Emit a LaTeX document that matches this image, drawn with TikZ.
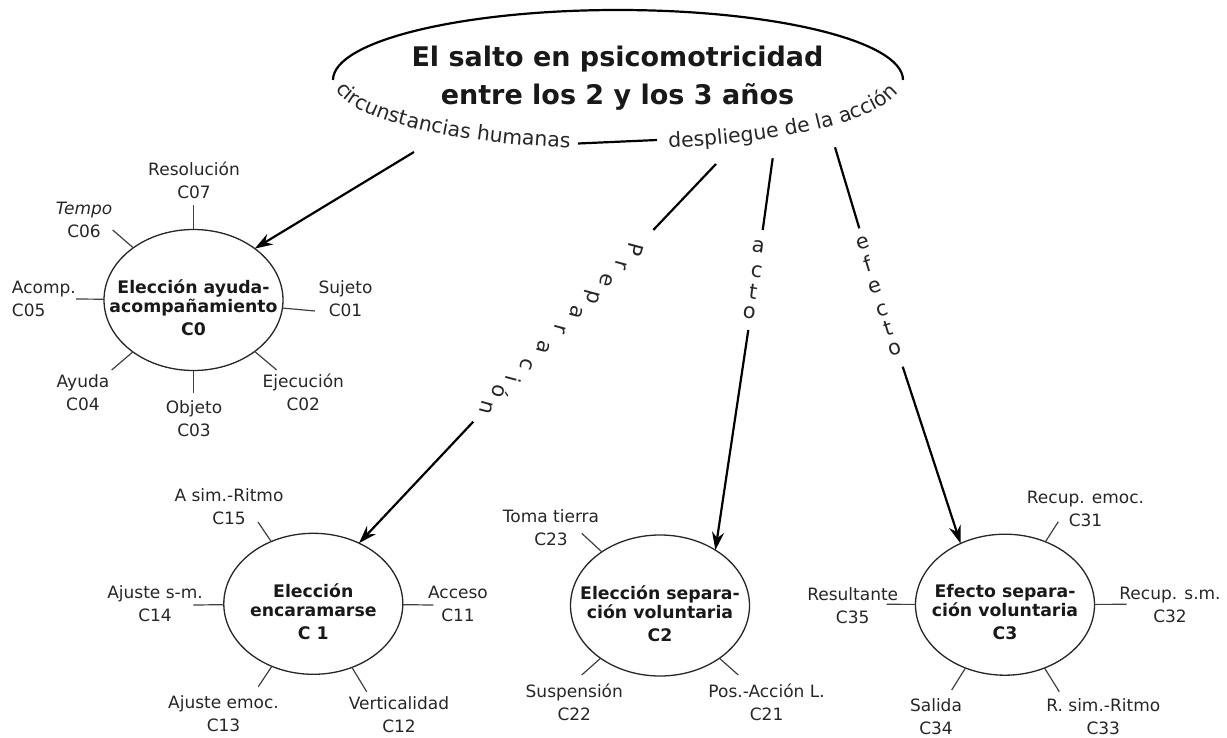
\documentclass[tikz,border=0pt]{standalone}
\usepackage{fontspec}
\setmainfont{DejaVu Sans}
\usetikzlibrary{arrows.meta,decorations.text,calc,shapes.geometric}
\begin{document}
\begin{tikzpicture}[x=1pt,y=-1pt,
  every node/.style={inner sep=0pt, outer sep=0pt},
  cnode/.style={draw=black!85, line width=1.3pt, ellipse, minimum width=179pt, minimum height=141pt},
  ctext/.style={anchor=north, align=center, font=\bfseries\fontsize{17.3}{19}\selectfont, text=black!90},
  lab/.style={align=center, font=\fontsize{17}{23}\selectfont, text=black!85},
  spoke/.style={draw=black!75, line width=1.2pt},
  arr/.style={line width=2.2pt, -{Stealth[length=18pt,width=12pt]}},
  plainline/.style={line width=2.2pt},
  lett/.style={font=\fontsize{21}{21}\selectfont, anchor=center, text=black!85}
]
\useasboundingbox (0,0) rectangle (1227,738);

% ---------- top ellipse (arc) and title ----------
\draw[line width=2.2pt] (618,80) ++(180:285 and 70) arc[start angle=180,end angle=360,x radius=285,y radius=70];
\node[anchor=north, align=center, font=\bfseries\fontsize{27}{38}\selectfont, text=black!90] (title) at (617.5,46)
  {El salto en psicomotricidad\\entre los 2 y los 3 años};

\path[decorate, decoration={text along path, text align=center, text color=black!85,
   text={|\fontsize{20.4}{25}\selectfont|circunstancias humanas}}]
   (618,80) ++(179:285 and 69) arc[start angle=179,end angle=98,x radius=285,y radius=69];
\path[decorate, decoration={text along path, text align=center, text color=black!85,
   text={|\fontsize{20.4}{25}\selectfont|despliegue de la acción}}]
   (618,80) ++(82:285 and 69) arc[start angle=82,end angle=2,x radius=285,y radius=69];

\coordinate (dl) at (578,143.5);
\coordinate (dr) at (657,140);
\draw[plainline] (dl) -- (dr);

% ---------- circles ----------
\node[cnode] (c0) at (193.5,300) {};
\node[ctext] (c0t) at ($(c0)+(0,-20)$) {Elección ayuda-\\acompañamiento\\[4pt]C0};
\node[cnode] (c1) at (313.3,603.8) {};
\node[ctext] (c1t) at ($(c1)+(0,-20)$) {Elección\\encaramarse\\[4pt]C 1};
\node[cnode] (c2) at (660,605.5) {};
\node[ctext] (c2t) at ($(c2)+(0,-20)$) {Elección separa-\\ción voluntaria\\[4pt]C2};
\node[cnode] (c3) at (1005,604.7) {};
\node[ctext] (c3t) at ($(c3)+(0,-20)$) {Efecto separa-\\ción voluntaria\\[4pt]C3};

% ---------- C0 spokes and labels ----------
\coordinate (o07) at (193.5,205);
\coordinate (o06) at (112.7,230);
\coordinate (o05) at (76,299);
\coordinate (o01) at (315,311);
\coordinate (o02) at (276.7,370);
\coordinate (o03) at (193.5,393);
\coordinate (o04) at (111.7,370);
\foreach \o in {o07,o06,o05,o01,o02,o03,o04} \draw[spoke] (c0) -- (\o);
\node[lab] (l07) at (194,180.3) {Resolución\\C07};
\node[lab] (l06) at (84,219.8) {\textit{Tempo}\\C06};
\node[lab, align=left, anchor=west] (l05) at (12,298.5) {Acomp.\\C05};
\node[lab] (l01) at (345.5,298.7) {Sujeto\\C01};
\node[lab] (l02) at (303.3,392.5) {Ejecución\\C02};
\node[lab] (l03) at (194,418.3) {Objeto\\C03};
\node[lab] (l04) at (83,392.5) {Ayuda\\C04};

% ---------- C1 spokes and labels ----------
\coordinate (o15) at (258,522);
\coordinate (o14) at (193.3,605);
\coordinate (o11) at (433.3,605);
\coordinate (o13) at (258.3,686.7);
\coordinate (o12) at (366.7,691.7);
\foreach \o in {o15,o14,o11,o13,o12} \draw[spoke] (c1) -- (\o);
\node[lab] (l15) at (229,507) {A sim.-Ritmo\\C15};
\node[lab] (l14) at (155,604) {Ajuste s-m.\\C14};
\node[lab] (l11) at (458,604.3) {Acceso\\C11};
\node[lab] (l13) at (223.5,714) {Ajuste emoc.\\C13};
\node[lab] (l12) at (399,714.5) {Verticalidad\\C12};

% ---------- C2 spokes and labels ----------
\coordinate (o23) at (581.7,533.3);
\coordinate (o22) at (581.7,675);
\coordinate (o21) at (738.3,675);
\foreach \o in {o23,o22,o21} \draw[spoke] (c2) -- (\o);
\node[lab] (l23) at (551,528) {Toma tierra\\C23};
\node[lab] (l22) at (574.3,702.5) {Suspensión\\C22};
\node[lab] (l21) at (766.6,702.5) {Pos.-Acción L.\\C21};

% ---------- C3 spokes and labels ----------
\coordinate (o31) at (1058.3,521.7);
\coordinate (o32) at (1126.7,604.3);
\coordinate (o35) at (886.7,604.3);
\coordinate (o34) at (951.7,690);
\coordinate (o33) at (1059.3,691.7);
\foreach \o in {o31,o32,o35,o34,o33} \draw[spoke] (c3) -- (\o);
\node[lab] (l31) at (1085.5,508.8) {Recup. emoc.\\C31};
\node[lab] (l35) at (852.7,605.2) {Resultante\\C35};
\node[lab] (l32) at (1170,605.2) {Recup. s.m.\\C32};
\node[lab] (l34) at (936,716.5) {Salida\\C34};
\node[lab] (l33) at (1103.3,716.5) {R. sim.-Ritmo\\C33};

% ---------- arrows ----------
\coordinate (s0) at (414,152);
\draw[arr] (s0) -- (c0.40.5);

\coordinate (s1) at (716,164);
\coordinate (g1a) at (653.3,230);
\coordinate (g1b) at (473.3,421.7);
\draw[plainline] (s1) -- (g1a);
\draw[arr] (g1b) -- (c1.53);
\foreach \ch/\x/\y [count=\i] in {P/635/249.9, r/621/264.7, e/606/280.6, p/591/296.5, a/576/312.4, r/560/329.4, a/543/347.4, c/527/364.3, i/513/379.2, ó/501/391.9, n/486/407.8}
  \node[lett, rotate=-105] (prep\i) at (\x,\y) {\ch};

\coordinate (s2) at (772.7,158.3);
\coordinate (g2a) at (762.7,230);
\coordinate (g2b) at (748.3,330);
\draw[plainline] (s2) -- (g2a);
\draw[arr] (g2b) -- (c2.45.7);
\foreach \ch/\x/\y [count=\i] in {a/758.3/246.7, c/756.7/271.7, t/753.3/291.7, o/749.3/312.7}
  \node[lett, rotate=-8] (acto\i) at (\x,\y) {\ch};

\coordinate (s3) at (835,147.3);
\coordinate (g3a) at (859.3,228.3);
\coordinate (g3b) at (902.7,366.7);
\draw[plainline] (s3) -- (g3a);
\draw[arr] (g3b) -- (c3.126.7);
\foreach \ch/\x/\y [count=\i] in {e/862.5/243.3, f/867.5/263.3, e/875/286.7, c/882.5/310, t/888.3/328.3, o/895/349.3}
  \node[lett, rotate=17] (efec\i) at (\x,\y) {\ch};
\end{tikzpicture}
\end{document}
